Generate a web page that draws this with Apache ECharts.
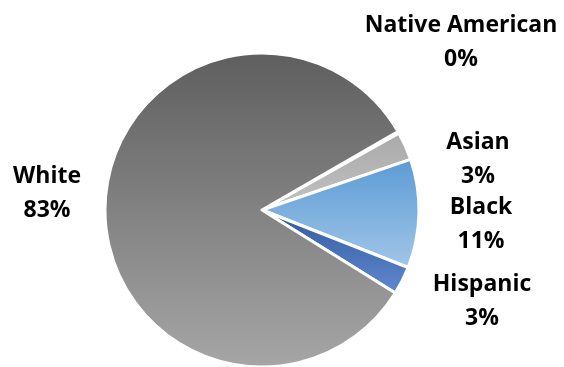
<!DOCTYPE html>
<html>
<head>
<meta charset="utf-8">
<script src="https://cdn.jsdelivr.net/npm/echarts@6/dist/echarts.min.js"></script>
<style>html,body{margin:0;padding:0;background:#fff}#c{width:564px;height:367px}</style>
</head>
<body>
<div id="c"></div>
<script>
const categories = ['Native American', 'Asian', 'Black', 'Hispanic', 'White'];
const values = [0.2, 2.9, 11.2, 2.9, 82.8];

const gradients = [
  ['#7f7f7f', '#9a9a9a'],
  ['#a9a9a9', '#c2c2c2'],
  ['#5b9bd5', '#a2c6e8'],
  ['#335a9c', '#5f88d0'],
  ['#5e5e5e', '#a6a6a6']
];
const labelPos = [
  [461, 42],
  [478, 159],
  [481, 224],
  [482, 301],
  [47, 193]
];

const chart = echarts.init(document.getElementById('c'));
chart.setOption({
  animation: false,
  series: [{
    type: 'pie',
    center: [262, 210],
    radius: 157,
    startAngle: 30,
    clockwise: true,
    itemStyle: { borderColor: '#ffffff', borderWidth: 3 },
    label: {
      show: true,
      formatter: p => p.name + '\n' + Math.round(p.value) + '%',
      fontFamily: 'Open Sans',
      fontWeight: 'bold',
      fontSize: 23,
      lineHeight: 34,
      color: '#000',
      align: 'center',
      overflow: 'none'
    },
    labelLine: { show: false },
    labelLayout: p => ({
      x: labelPos[p.dataIndex][0],
      y: labelPos[p.dataIndex][1],
      align: 'center',
      verticalAlign: 'middle',
      width: 260
    }),
    data: categories.map((n, i) => ({
      name: n,
      value: values[i],
      itemStyle: {
        color: new echarts.graphic.LinearGradient(0, 0, 0, 1, [
          { offset: 0, color: gradients[i][0] },
          { offset: 1, color: gradients[i][1] }
        ])
      }
    }))
  }]
});
</script>
</body>
</html>
